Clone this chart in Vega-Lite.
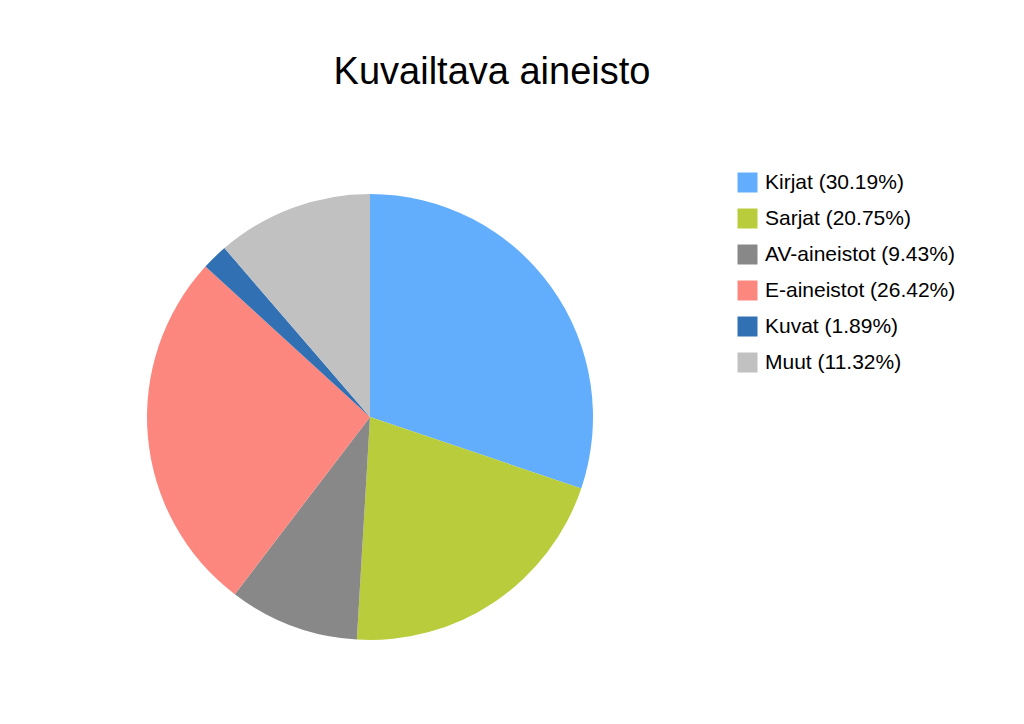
{
  "$schema": "https://vega.github.io/schema/vega-lite/v6.json",
  "width": 446,
  "height": 446,
  "autosize": {"type": "none"},
  "padding": {"left": 147, "top": 194, "right": 431, "bottom": 84},
  "background": "white",
  "title": {
    "text": "Kuvailtava aineisto",
    "font": "Liberation Sans",
    "fontSize": 38,
    "fontWeight": "normal",
    "color": "black",
    "anchor": "middle",
    "frame": "group",
    "baseline": "alphabetic",
    "offset": 50,
    "dx": 122
  },
  "data": {
    "values": [
      {"aineisto": "Kirjat (30.19%)", "osuus": 30.19, "jarjestys": 1},
      {"aineisto": "Sarjat (20.75%)", "osuus": 20.75, "jarjestys": 2},
      {"aineisto": "AV-aineistot (9.43%)", "osuus": 9.43, "jarjestys": 3},
      {"aineisto": "E-aineistot (26.42%)", "osuus": 26.42, "jarjestys": 4},
      {"aineisto": "Kuvat (1.89%)", "osuus": 1.89, "jarjestys": 5},
      {"aineisto": "Muut (11.32%)", "osuus": 11.32, "jarjestys": 6}
    ]
  },
  "mark": {"type": "arc"},
  "encoding": {
    "theta": {"field": "osuus", "type": "quantitative", "stack": true},
    "order": {"field": "jarjestys", "type": "quantitative"},
    "color": {
      "field": "aineisto",
      "type": "nominal",
      "sort": null,
      "scale": {
        "domain": ["Kirjat (30.19%)", "Sarjat (20.75%)", "AV-aineistot (9.43%)", "E-aineistot (26.42%)", "Kuvat (1.89%)", "Muut (11.32%)"],
        "range": ["#62aefc", "#b9cd3c", "#888888", "#fb877e", "#3070b3", "#c1c1c1"]
      },
      "legend": {
        "title": null,
        "orient": "none",
        "legendX": 590,
        "legendY": -22,
        "symbolType": "square",
        "symbolSize": 400,
        "symbolStrokeWidth": 0,
        "symbolOpacity": 1,
        "labelFont": "Liberation Sans",
        "labelFontSize": 21,
        "labelColor": "black",
        "labelOffset": 7,
        "rowPadding": 14,
        "labelLimit": 400
      }
    }
  },
  "config": {"view": {"stroke": null}}
}
